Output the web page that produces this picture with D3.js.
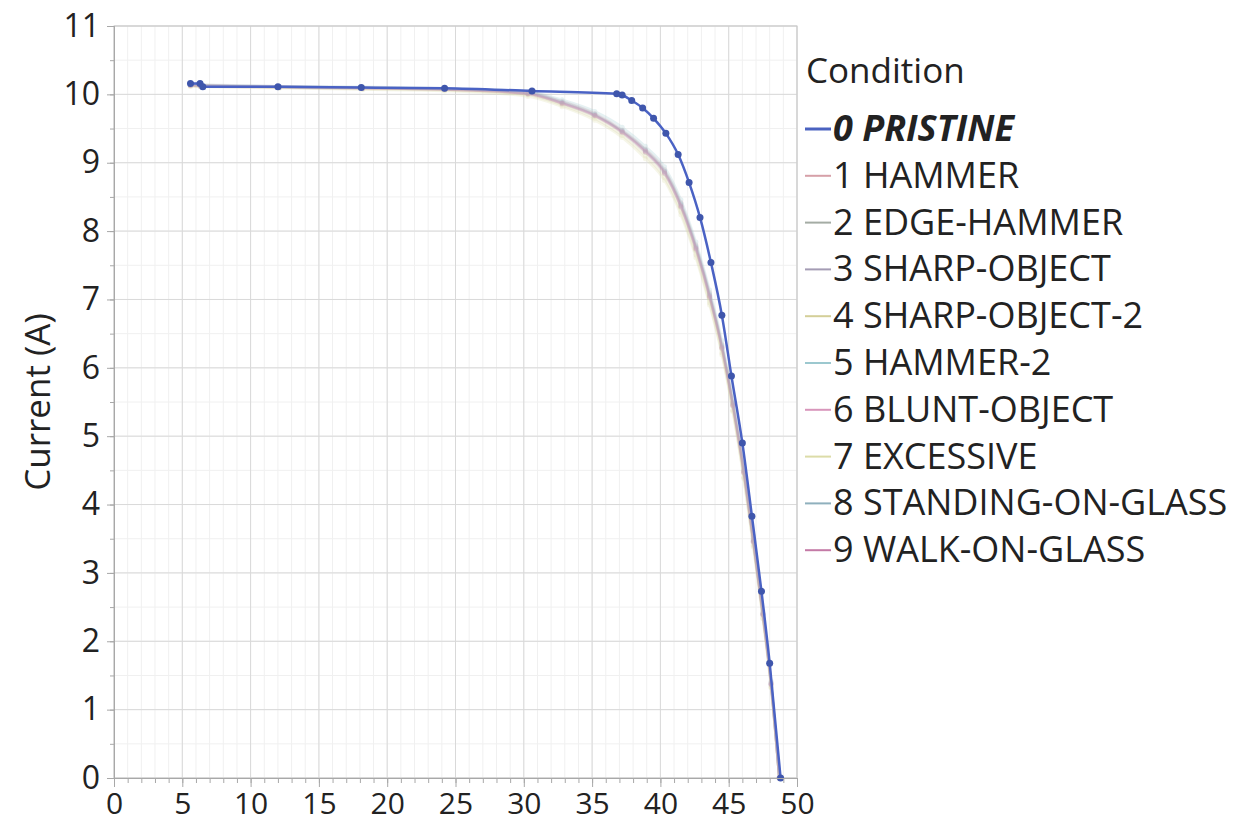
<!DOCTYPE html>
<html>
<head>
<meta charset="utf-8">
<script src="https://cdn.jsdelivr.net/npm/d3@7"></script>
<style>
  body { margin: 0; background: #fff; }
  text { font-family: "Open Sans", "Noto Sans", sans-serif; fill: #222; }
</style>
</head>
<body>
<div class="ivChart"></div>
<script>
// canvas size
var w = 1244;
var h = 824;

// series names
var conditions = ["0 PRISTINE", "1 HAMMER", "2 EDGE-HAMMER", "3 SHARP-OBJECT", "4 SHARP-OBJECT-2",
                  "5 HAMMER-2", "6 BLUNT-OBJECT", "7 EXCESSIVE", "8 STANDING-ON-GLASS", "9 WALK-ON-GLASS"];

// pristine curve (voltage, current)
var pristineV = [5.6, 6.3, 6.5, 12.0, 18.1, 24.2, 30.6, 36.8, 37.2, 37.9, 38.7, 39.5, 40.4, 41.3, 42.1, 42.9, 43.7, 44.5, 45.2, 46.0, 46.7, 47.4, 48.0, 48.8];
var pristineI = [10.16, 10.16, 10.11, 10.11, 10.10, 10.09, 10.05, 10.01, 9.99, 9.91, 9.80, 9.65, 9.43, 9.12, 8.71, 8.20, 7.54, 6.77, 5.88, 4.90, 3.83, 2.73, 1.68, 0.0];

// damaged curves, shared voltage points
var damagedV = [5.6, 6.3, 12.1, 18.2, 24.2, 30.3, 32.8, 35.2, 37.2, 38.9, 40.3, 41.5, 42.6, 43.6, 44.5, 45.3, 46.1, 46.8, 47.5, 48.1, 48.7];
var hammerI      = [10.14, 10.13, 10.11, 10.10, 10.08, 10.03, 9.90, 9.72, 9.48, 9.20, 8.90, 8.42, 7.80, 7.10, 6.35, 5.50, 4.52, 3.50, 2.42, 1.40, 0.0];
var edgeHammerI  = [10.13, 10.13, 10.10, 10.09, 10.07, 10.00, 9.86, 9.68, 9.44, 9.15, 8.84, 8.35, 7.72, 7.02, 6.28, 5.44, 4.46, 3.45, 2.38, 1.36, 0.0];
var sharpI       = [10.15, 10.14, 10.12, 10.10, 10.08, 10.02, 9.88, 9.70, 9.46, 9.18, 8.87, 8.38, 7.76, 7.06, 6.31, 5.47, 4.49, 3.47, 2.40, 1.38, 0.0];
var sharp2I      = [10.12, 10.12, 10.10, 10.08, 10.06, 9.99, 9.84, 9.65, 9.40, 9.10, 8.78, 8.28, 7.65, 6.95, 6.22, 5.38, 4.40, 3.40, 2.34, 1.33, 0.0];
var hammer2I     = [10.14, 10.14, 10.12, 10.11, 10.09, 10.04, 9.92, 9.75, 9.52, 9.24, 8.94, 8.46, 7.84, 7.14, 6.40, 5.55, 4.56, 3.54, 2.45, 1.42, 0.0];
var bluntI       = [10.13, 10.12, 10.10, 10.09, 10.07, 10.01, 9.87, 9.69, 9.45, 9.17, 8.86, 8.37, 7.75, 7.05, 6.30, 5.46, 4.48, 3.46, 2.39, 1.37, 0.0];
var excessiveI   = [10.12, 10.11, 10.09, 10.07, 10.05, 9.97, 9.82, 9.62, 9.37, 9.06, 8.74, 8.24, 7.61, 6.92, 6.19, 5.36, 4.38, 3.38, 2.33, 1.32, 0.0];
var standingI    = [10.14, 10.13, 10.11, 10.10, 10.08, 10.02, 9.89, 9.71, 9.47, 9.19, 8.88, 8.40, 7.78, 7.08, 6.33, 5.49, 4.50, 3.48, 2.41, 1.39, 0.0];
var walkI        = [10.13, 10.13, 10.11, 10.09, 10.07, 10.01, 9.87, 9.69, 9.45, 9.16, 8.85, 8.36, 7.74, 7.04, 6.29, 5.45, 4.47, 3.46, 2.39, 1.37, 0.0];

var damagedI = [hammerI, edgeHammerI, sharpI, sharp2I, hammer2I, bluntI, excessiveI, standingI, walkI];

var colors = ["#4a62c0", "#d6a0a8", "#a4aca4", "#a49cb4", "#d4cf98", "#9cc8cf", "#d896bb", "#dcdca8", "#8fb0bd", "#c47aa6"];

// tick values
var xTicks = [0, 5, 10, 15, 20, 25, 30, 35, 40, 45, 50];
var yTicks = [0, 1, 2, 3, 4, 5, 6, 7, 8, 9, 10, 11];

var plotL = 114, plotR = 797, plotT = 26, plotB = 778;

var xScale = d3.scaleLinear().domain([0, 50]).range([plotL, plotR]);
var yScale = d3.scaleLinear().domain([0, 11]).range([plotB, plotT]);

var svg = d3.select("div.ivChart")
            .append("svg")
            .attr("width", w)
            .attr("height", h);

// minor gridlines
svg.append("g")
   .selectAll("line")
   .data(d3.range(0, 51, 1))
   .enter()
   .append("line")
   .attr("x1", function(d) { return xScale(d); })
   .attr("x2", function(d) { return xScale(d); })
   .attr("y1", plotT)
   .attr("y2", plotB)
   .attr("stroke", "#f0f0f0");

svg.append("g")
   .selectAll("line")
   .data(d3.range(0, 11.01, 0.5))
   .enter()
   .append("line")
   .attr("x1", plotL)
   .attr("x2", plotR)
   .attr("y1", function(d) { return yScale(d); })
   .attr("y2", function(d) { return yScale(d); })
   .attr("stroke", "#f0f0f0");

// major gridlines
svg.append("g")
   .selectAll("line")
   .data(xTicks)
   .enter()
   .append("line")
   .attr("x1", function(d) { return xScale(d); })
   .attr("x2", function(d) { return xScale(d); })
   .attr("y1", plotT)
   .attr("y2", plotB)
   .attr("stroke", "#d9d9d9");

svg.append("g")
   .selectAll("line")
   .data(yTicks)
   .enter()
   .append("line")
   .attr("x1", plotL)
   .attr("x2", plotR)
   .attr("y1", function(d) { return yScale(d); })
   .attr("y2", function(d) { return yScale(d); })
   .attr("stroke", "#d9d9d9");

// frame
svg.append("rect")
   .attr("x", plotL)
   .attr("y", plotT)
   .attr("width", plotR - plotL)
   .attr("height", plotB - plotT)
   .attr("fill", "none")
   .attr("stroke", "#c8c8c8");

var line = d3.line()
             .x(function(d) { return xScale(d[0]); })
             .y(function(d) { return yScale(d[1]); })
             .curve(d3.curveMonotoneX);

// damaged curves (faded)
damagedI.forEach(function(series, k) {
    var pts = damagedV.map(function(v, i) { return [v, series[i]]; });
    var g = svg.append("g").attr("opacity", 0.25);
    g.append("path")
     .datum(pts)
     .attr("d", line)
     .attr("fill", "none")
     .attr("stroke", colors[k + 1])
     .attr("stroke-width", 2.5);
    g.selectAll("circle")
     .data(pts)
     .enter()
     .append("circle")
     .attr("cx", function(d) { return xScale(d[0]); })
     .attr("cy", function(d) { return yScale(d[1]); })
     .attr("r", 2.5)
     .attr("fill", colors[k + 1]);
});

// pristine curve
var pristine = pristineV.map(function(v, i) { return [v, pristineI[i]]; });
svg.append("path")
   .datum(pristine)
   .attr("d", line)
   .attr("fill", "none")
   .attr("stroke", "#4a62c4")
   .attr("stroke-width", 2.5);

svg.append("g")
   .selectAll("circle")
   .data(pristine)
   .enter()
   .append("circle")
   .attr("cx", function(d) { return xScale(d[0]); })
   .attr("cy", function(d) { return yScale(d[1]); })
   .attr("r", 3.5)
   .attr("fill", "#3f56ac");

// axes
var x_minor = d3.axisBottom(xScale).tickValues(d3.range(0, 51, 1)).tickSize(5).tickFormat("");
var x_axis = d3.axisBottom(xScale).tickValues(xTicks).tickSize(9).tickPadding(6);
var y_minor = d3.axisLeft(yScale).tickValues(d3.range(0, 11.01, 0.5)).tickSize(4).tickFormat("");
var y_axis = d3.axisLeft(yScale).tickValues(yTicks).tickSize(7).tickPadding(7);

function styleAxis(g, size) {
    g.select(".domain").attr("stroke", "#a8a8a8");
    g.selectAll(".tick line").attr("stroke", "#a8a8a8");
    g.selectAll(".tick text")
     .attr("font-size", size)
     .attr("font-family", "'Open Sans', sans-serif")
     .attr("fill", "#222");
}

svg.append("g").attr("transform", "translate(0," + plotB + ")").call(x_minor).call(styleAxis, "30px");
svg.append("g").attr("transform", "translate(0," + plotB + ")").call(x_axis).call(styleAxis, "30px");
svg.append("g").attr("transform", "translate(" + plotL + ",0)").call(y_minor).call(styleAxis, "32px");
svg.append("g").attr("transform", "translate(" + plotL + ",0)").call(y_axis).call(styleAxis, "32px");

// y axis label
svg.append("text")
   .attr("transform", "translate(50," + ((plotT + plotB) / 2) + ") rotate(-90)")
   .attr("text-anchor", "middle")
   .attr("font-size", "35px")
   .text("Current (A)");

// legend
var legend = svg.append("g").attr("transform", "translate(805, 0)");

legend.append("text")
      .attr("x", 1)
      .attr("y", 83)
      .attr("font-size", "35px")
      .text("Condition");

var rows = legend.selectAll("g.row")
                 .data(conditions)
                 .enter()
                 .append("g")
                 .attr("class", "row")
                 .attr("transform", function(d, i) { return "translate(0," + (129 + i * 46.8) + ")"; });

rows.append("line")
    .attr("x1", 0)
    .attr("x2", 26)
    .attr("y1", 0)
    .attr("y2", 0)
    .attr("stroke", function(d, i) { return colors[i]; })
    .attr("stroke-width", function(d, i) { return i === 0 ? 3 : 2; });

rows.append("text")
    .attr("x", 28)
    .attr("y", 12)
    .attr("font-size", "36px")
    .attr("font-weight", function(d, i) { return i === 0 ? "bold" : "normal"; })
    .attr("font-style", function(d, i) { return i === 0 ? "italic" : "normal"; })
    .text(function(d) { return d; });
</script>
</body>
</html>
